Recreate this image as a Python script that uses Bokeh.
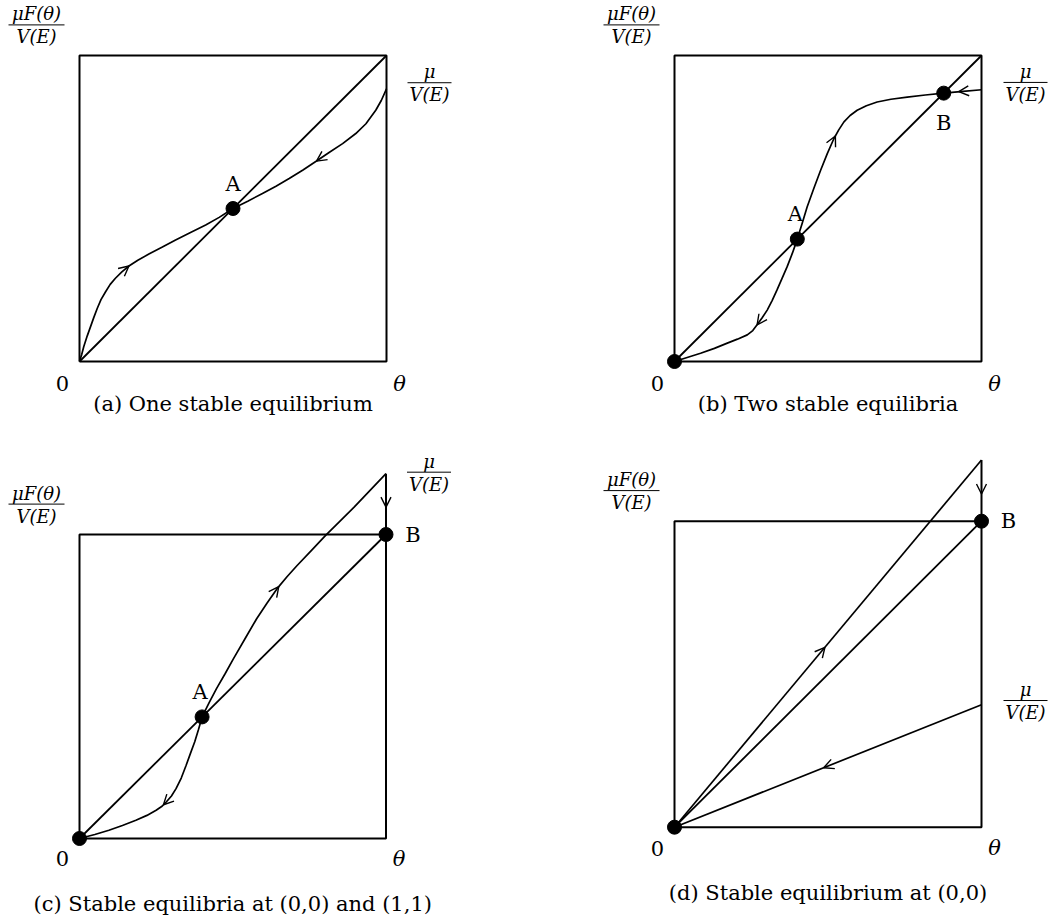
import numpy as np
from bokeh.plotting import figure
from bokeh.layouts import row, column
from bokeh.models import Arrow, OpenHead, Range1d
from bokeh.core.properties import value
from bokeh.embed import file_html
from bokeh.resources import INLINE

# ---------------- data ----------------
captions = ["(a) One stable equilibrium",
            "(b) Two stable equilibria",
            "(c) Stable equilibria at (0,0) and (1,1)",
            "(d) Stable equilibrium at (0,0)"]
y_label_num = "μF(θ)"
y_label_den = "V(E)"
r_label_num = "μ"
r_label_den = "V(E)"
origin_label = "0"
x_label = "θ"

# box (unit square) and diagonal
box_x = [0, 1, 1, 0, 0]
box_y = [0, 0, 1, 1, 0]
diag_x = [0, 1]
diag_y = [0, 1]

# (a) one stable equilibrium
curve_a_x = [0.0, 0.007, 0.014, 0.025, 0.036, 0.047, 0.058, 0.070, 0.085, 0.100, 0.117,
             0.138, 0.161, 0.190, 0.226, 0.270, 0.313, 0.360, 0.411, 0.455, 0.500, 0.548,
             0.596, 0.640, 0.683, 0.728, 0.772, 0.813, 0.857, 0.900, 0.933, 0.965, 0.983, 1.0]
curve_a_y = [0.0, 0.022, 0.049, 0.083, 0.114, 0.145, 0.174, 0.202, 0.228, 0.252, 0.272,
             0.293, 0.312, 0.331, 0.351, 0.374, 0.397, 0.421, 0.446, 0.471, 0.500, 0.524,
             0.549, 0.573, 0.598, 0.626, 0.655, 0.683, 0.712, 0.745, 0.777, 0.821, 0.853, 0.891]
eq_a_x = [0.5]
eq_a_y = [0.5]
eq_a_names = ["A"]
arrows_a_x = [0.161, 0.772]
arrows_a_dir = [1, -1]

# (b) two stable equilibria
curve_b_x = [0.0, 0.085, 0.130, 0.172, 0.205, 0.237, 0.255, 0.269, 0.285, 0.302, 0.318,
             0.334, 0.350, 0.367, 0.384, 0.400, 0.416, 0.432, 0.454, 0.476, 0.498, 0.519,
             0.535, 0.552, 0.572, 0.595, 0.625, 0.660, 0.705, 0.758, 0.817, 0.877, 0.940, 1.0]
curve_b_y = [0.0, 0.027, 0.043, 0.060, 0.073, 0.087, 0.101, 0.120, 0.142, 0.168, 0.199,
             0.234, 0.271, 0.310, 0.354, 0.400, 0.452, 0.505, 0.566, 0.625, 0.680, 0.728,
             0.757, 0.783, 0.804, 0.821, 0.836, 0.848, 0.857, 0.864, 0.871, 0.877, 0.883, 0.888]
eq_b_x = [0.0, 0.4, 0.877]
eq_b_y = [0.0, 0.4, 0.877]
eq_b_names = ["", "A", "B"]
arrows_b_x = [0.524, 0.269, 0.926]
arrows_b_dir = [1, -1, -1]

# (c) stable equilibria at (0,0) and (1,1)
curve_c_x = [0.0, 0.050, 0.096, 0.140, 0.184, 0.220, 0.250, 0.268, 0.283, 0.300, 0.315,
             0.332, 0.348, 0.362, 0.376, 0.388, 0.400, 0.423, 0.447, 0.475, 0.502, 0.540,
             0.578, 0.611, 0.644, 0.677, 0.710, 0.757, 0.803, 0.850, 0.896, 0.948, 1.0]
curve_c_y = [0.0, 0.013, 0.027, 0.043, 0.060, 0.076, 0.093, 0.105, 0.120, 0.140, 0.164,
             0.199, 0.241, 0.280, 0.318, 0.358, 0.400, 0.447, 0.493, 0.542, 0.591, 0.657,
             0.723, 0.773, 0.821, 0.861, 0.898, 0.948, 0.997, 1.044, 1.090, 1.145, 1.200]
eq_c_x = [0.0, 0.4, 1.0]
eq_c_y = [0.0, 0.4, 1.0]
eq_c_names = ["", "A", "B"]
arrows_c_x = [0.650, 0.274]
arrows_c_dir = [1, -1]
vert_arrow_c_y = 1.09

# (d) stable equilibrium at (0,0)
upper_d_x = [0.0, 1.0]
upper_d_y = [0.0, 1.2]
lower_d_x = [0.0, 1.0]
lower_d_y = [0.0, 0.4]
eq_d_x = [0.0, 1.0]
eq_d_y = [0.0, 1.0]
eq_d_names = ["", "B"]
arrows_d_upper_x = [0.49]
arrows_d_lower_x = [0.486]
vert_arrow_d_y = 1.089

# ---------------- styling ----------------
SERIF = value("DejaVu Serif")
BLACK = "black"


def make_panel(W, H, bl, bt, bw, bh):
    """Figure whose unit square occupies a bw x bh pixel box at (bl, bt)."""
    xs = -bl / bw
    xe = xs + W / bw
    ye = 1 + bt / bh
    ys = ye - H / bh
    p = figure(width=W, height=H, x_range=Range1d(xs, xe), y_range=Range1d(ys, ye),
               output_backend="svg", toolbar_location=None, tools="",
               x_axis_location=None, y_axis_location=None, min_border=0)
    p.xgrid.visible = False
    p.ygrid.visible = False
    p.outline_line_color = None
    p.background_fill_color = "white"
    p.border_fill_color = "white"
    p._bw = bw
    p._bh = bh
    return p


def txt(p, x, y, s, size=21, italic=False, align="center", baseline="middle", yoff=0):
    p.text(x=[x], y=[y], text=[s], text_font=SERIF, text_font_size=f"{size}px",
           text_font_style="italic" if italic else "normal", text_color=BLACK,
           text_align=align, text_baseline=baseline, y_offset=yoff)


def frac(p, x, y, num, den, half_w_px, size=18):
    hw = half_w_px / p._bw
    p.segment(x0=[x - hw], y0=[y], x1=[x + hw], y1=[y], line_color=BLACK, line_width=1)
    txt(p, x, y, num, size=size, italic=True, yoff=-11)
    txt(p, x, y, den, size=size, italic=True, yoff=12)


def head_on_curve(p, cx, cy, x, direction):
    y = float(np.interp(x, cx, cy))
    x0 = x - direction * 0.012
    y0 = float(np.interp(x0, cx, cy))
    p.add_layout(Arrow(x_start=x0, y_start=y0, x_end=x, y_end=y, line_alpha=0,
                       end=OpenHead(size=10, line_width=1.4, line_color=BLACK)))


def head_down(p, x, y):
    p.add_layout(Arrow(x_start=x, y_start=y + 0.012, x_end=x, y_end=y, line_alpha=0,
                       end=OpenHead(size=10, line_width=1.4, line_color=BLACK)))


def common(p, caption, r_label_y, corner_dy_px, cap_dy_px, r_label_x_px=43):
    # box and diagonal
    p.line(box_x, box_y, line_color=BLACK, line_width=2)
    p.line(diag_x, diag_y, line_color=BLACK, line_width=1.8)
    # y label fraction (top-left)
    frac(p, -43 / p._bw, 1.1, y_label_num, y_label_den, 28)
    # right label fraction
    frac(p, 1 + r_label_x_px / p._bw, r_label_y, r_label_num, r_label_den, 22)
    # corner labels
    txt(p, -17 / p._bw, -corner_dy_px / p._bh, origin_label, size=21)
    txt(p, 1 + 13 / p._bw, -corner_dy_px / p._bh, x_label, size=21, italic=True)
    # caption
    txt(p, 0.5, -cap_dy_px / p._bh, caption, size=21)


def equilibria(p, ex, ey):
    p.scatter(ex, ey, size=14, marker="circle", fill_color=BLACK, line_color=BLACK)


# ---------------- panel (a) ----------------
pa = make_panel(528, 448, 79, 55, 307, 306)
common(pa, captions[0], curve_a_y[-1] + 0.02, 22, 42)
pa.line(curve_a_x, curve_a_y, line_color=BLACK, line_width=1.7)
for ax_, d in zip(arrows_a_x, arrows_a_dir):
    head_on_curve(pa, curve_a_x, curve_a_y, ax_, d)
equilibria(pa, eq_a_x, eq_a_y)
txt(pa, eq_a_x[0], eq_a_y[0] + 25 / 306, eq_a_names[0], size=21)

# ---------------- panel (b) ----------------
pb = make_panel(523, 448, 146, 55, 307, 306)
common(pb, captions[1], curve_b_y[-1] + 0.024, 22, 42, r_label_x_px=44)
pb.line(curve_b_x, curve_b_y, line_color=BLACK, line_width=1.7)
for ax_, d in zip(arrows_b_x, arrows_b_dir):
    head_on_curve(pb, curve_b_x, curve_b_y, ax_, d)
equilibria(pb, eq_b_x, eq_b_y)
txt(pb, eq_b_x[1] - 2 / 307, eq_b_y[1] + 25 / 306, eq_b_names[1], size=21)
txt(pb, eq_b_x[2], eq_b_y[2] - 30 / 306, eq_b_names[2], size=21)

# ---------------- panel (c) ----------------
pc = make_panel(528, 472, 79, 86, 306.5, 304)
common(pc, captions[2], curve_c_y[-1] + 0.005, 20, 65)
pc.line(curve_c_x, curve_c_y, line_color=BLACK, line_width=1.7)
pc.line([1, 1], [1, curve_c_y[-1]], line_color=BLACK, line_width=2)
for ax_, d in zip(arrows_c_x, arrows_c_dir):
    head_on_curve(pc, curve_c_x, curve_c_y, ax_, d)
head_down(pc, 1.0, vert_arrow_c_y)
equilibria(pc, eq_c_x, eq_c_y)
txt(pc, eq_c_x[1] - 2 / 306.5, eq_c_y[1] + 25 / 304, eq_c_names[1], size=21)
txt(pc, eq_c_x[2] + 27 / 306.5, eq_c_y[2], eq_c_names[2], size=21)

# ---------------- panel (d) ----------------
pd_ = make_panel(523, 472, 146, 72.7, 307, 306)
common(pd_, captions[3], lower_d_y[-1] + 0.014, 21, 66, r_label_x_px=44)
pd_.line(upper_d_x, upper_d_y, line_color=BLACK, line_width=1.7)
pd_.line(lower_d_x, lower_d_y, line_color=BLACK, line_width=1.7)
pd_.line([1, 1], [1, upper_d_y[-1]], line_color=BLACK, line_width=2)
head_on_curve(pd_, upper_d_x, upper_d_y, arrows_d_upper_x[0], 1)
head_on_curve(pd_, lower_d_x, lower_d_y, arrows_d_lower_x[0], -1)
head_down(pd_, 1.0, vert_arrow_d_y)
equilibria(pd_, eq_d_x, eq_d_y)
txt(pd_, eq_d_x[1] + 27 / 307, eq_d_y[1], eq_d_names[1], size=21)

layout = column(row(pa, pb, spacing=0), row(pc, pd_, spacing=0), spacing=0)

open("out.html", "w").write(file_html(layout, INLINE, title="Equilibria"))
